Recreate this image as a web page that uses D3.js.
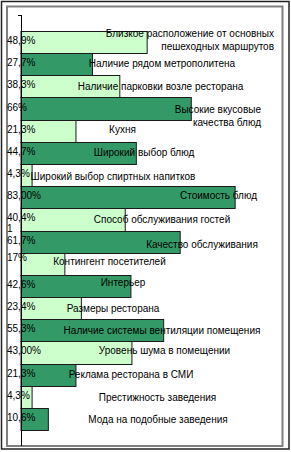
<!DOCTYPE html>
<html>
<head>
<meta charset="utf-8">
<script src="https://cdn.jsdelivr.net/npm/d3@7"></script>
<style>
  body { margin: 0; background: #fff; }
  text { font-family: "Liberation Sans", Arial, sans-serif; font-size: 10px; fill: #000; }
</style>
</head>
<body>
<div id="chart"></div>
<script>
const categories = [
  ['Близкое расположение от основных', 'пешеходных маршрутов'],
  ['Наличие рядом метрополитена'],
  ['Наличие парковки возле ресторана'],
  ['Высокие вкусовые', 'качества блюд'],
  ['Кухня'],
  ['Широкий выбор блюд'],
  ['Широкий выбор спиртных напитков'],
  ['Стоимость блюд'],
  ['Способ обслуживания гостей'],
  ['Качество обслуживания'],
  ['Контингент посетителей'],
  ['Интерьер'],
  ['Размеры ресторана'],
  ['Наличие системы вентиляции помещения'],
  ['Уровень шума в помещении'],
  ['Реклама ресторана в СМИ'],
  ['Престижность заведения'],
  ['Мода на подобные заведения']
]
const values = [48.9, 27.7, 38.3, 66, 21.3, 44.7, 4.3, 83, 40.4, 61.7, 17, 42.6, 23.4, 55.3, 43, 21.3, 4.3, 10.6]
const valueLabels = ['48,9%', '27,7%', '38,3%', '66%', '21,3%', '44,7%', '4,3%', '83,00%', '40,4%', '61,7%',
  '17%', '42,6%', '23,4%', '55,3%', '43,00%', '21,3%', '4,3%', '10,6%']

// label placement, as Excel left them: [x, anchor, dy from bar centre]
const labelPos = [
  [274, 'end', -2.5], [162, 'middle', -1], [160.5, 'middle', 0.5], [261, 'end', 7],
  [122.5, 'middle', -1.5], [144, 'middle', 0], [113, 'middle', 1], [218.5, 'middle', -2],
  [162, 'middle', 0], [202, 'middle', 3], [109.5, 'middle', -2], [123, 'middle', -3],
  [113, 'middle', 0], [162, 'middle', 0], [164.5, 'middle', -1.5], [131, 'middle', -0.5],
  [157.5, 'middle', 1], [158, 'middle', 1]
]

const colors = ['#ccffcc', '#339966']
const width = 291, height = 452

const svg = d3.select('#chart').append('svg')
  .attr('width', width)
  .attr('height', height)

// frames
svg.append('rect')
  .attr('x', 1.5).attr('y', 1.5)
  .attr('width', 287.5).attr('height', 447.5)
  .style('fill', '#fff').style('stroke', '#222').style('stroke-width', 1.5)
svg.append('rect')
  .attr('x', 7).attr('y', 6.5)
  .attr('width', 275.5).attr('height', 439.5)
  .style('fill', '#fff').style('stroke', '#808080').style('stroke-width', 2)

let x = d3.scaleLinear().domain([0, 100]).range([21, 279])
let y = d3.scaleBand()
  .domain(d3.range(values.length))
  .range([15, 446])
  .paddingInner(0)
  .paddingOuter(0.72)

let bars = svg.append('g').attr('class', 'bars')
bars.selectAll('rect')
  .data(values)
  .enter().append('rect')
  .attr('x', x(0))
  .attr('y', (d, i) => Math.round(y(i)) + 0.5)
  .attr('width', d => x(d) - x(0))
  .attr('height', (d, i) => Math.round(y(i) + y.bandwidth()) - Math.round(y(i)))
  .style('fill', (d, i) => colors[i % 2])
  .style('stroke', '#1a1a1a')
  .style('stroke-width', 1)

// axis line with the little tick at the top
svg.append('line')
  .attr('x1', x(0) + 0.5).attr('x2', x(0) + 0.5)
  .attr('y1', 15).attr('y2', 446)
  .style('stroke', '#000')
svg.append('line')
  .attr('x1', x(0) - 3).attr('x2', x(0) + 0.5)
  .attr('y1', 15.5).attr('y2', 15.5)
  .style('stroke', '#000')

// percentage labels
let pct = svg.append('g').attr('class', 'pct')
pct.selectAll('text')
  .data(valueLabels)
  .enter().append('text')
  .attr('x', 7)
  .attr('y', (d, i) => y(i) + y.bandwidth() / 2 + 2 + (d === '17%' ? -5 : 0) + (d === '40,4%' ? -0.7 : 0))
  .text(d => d)
pct.append('text')
  .attr('x', 7)
  .attr('y', y(9) + 1)
  .text('1')

// category labels
let cats = svg.append('g').attr('class', 'cats')
cats.selectAll('text')
  .data(categories)
  .enter().append('text')
  .attr('x', (d, i) => labelPos[i][0])
  .attr('y', (d, i) => y(i) + y.bandwidth() / 2 + 3.5 + labelPos[i][2] - (d.length - 1) * 6.5)
  .style('text-anchor', (d, i) => labelPos[i][1])
  .each(function (d, i) {
    d3.select(this).selectAll('tspan')
      .data(d)
      .enter().append('tspan')
      .attr('x', labelPos[i][0])
      .attr('dy', (t, j) => j === 0 ? 0 : 13.5)
      .text(t => t)
  })
</script>
</body>
</html>
